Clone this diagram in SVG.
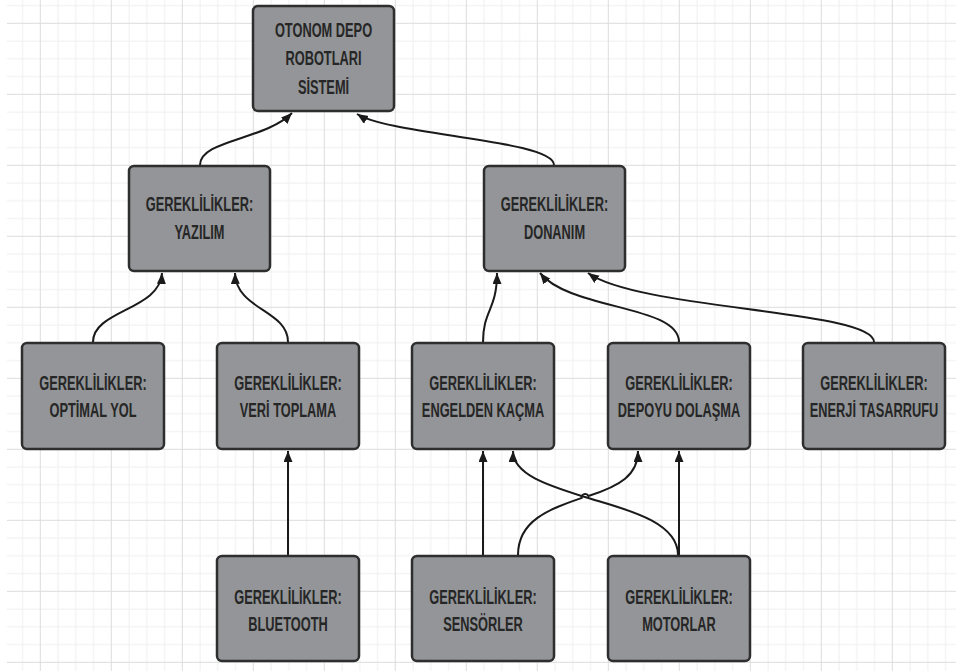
<svg xmlns="http://www.w3.org/2000/svg" width="956" height="671" viewBox="0 0 956 671">
  <defs>
    <!-- 71px major cells split into 4 minor cells -->
    <pattern id="grid" patternUnits="userSpaceOnUse" x="-31.2" y="-48.2" width="71" height="71">
      <path d="M18.25 0V71M36 0V71M53.75 0V71M0 18.25H71M0 36H71M0 53.75H71" stroke="#efefef" stroke-width="1" fill="none"/>
      <path d="M0.5 0V71M0 0.5H71" stroke="#dcdcdc" stroke-width="1" fill="none"/>
    </pattern>
    <marker id="arrow" markerUnits="userSpaceOnUse" markerWidth="12" markerHeight="10" refX="11" refY="4.5" orient="auto">
      <path d="M0 0L11 4.5L0 9z" fill="#1a1a1a"/>
    </marker>
    <style>
      .box { fill: #939598; stroke: #2e2e2e; stroke-width: 2.5; }
      .lbl { font-family: "Liberation Sans", Arial, sans-serif; font-weight: bold; font-size: 21px; fill: #262626; text-anchor: middle; }
      .link { fill: none; stroke: #1a1a1a; stroke-width: 2; }
    </style>
  </defs>

  <rect width="956" height="671" fill="#ffffff"/>
  <rect x="7" y="0" width="949" height="671" fill="url(#grid)"/>

  <g id="connectors">
    <path class="link" marker-end="url(#arrow)" d="M200 165C200 140 265 140 292 113"/>
    <path class="link" marker-end="url(#arrow)" d="M554 165C554 140 390 135 357 114"/>
    <path class="link" marker-end="url(#arrow)" d="M93 342C93 310 160 310 162 273"/>
    <path class="link" marker-end="url(#arrow)" d="M288 342C288 310 236 310 235 273"/>
    <path class="link" marker-end="url(#arrow)" d="M483 342C483 310 497 310 497 273"/>
    <path class="link" marker-end="url(#arrow)" d="M679 342C679 305 570 310 540 273"/>
    <path class="link" marker-end="url(#arrow)" d="M874 342C874 310 640 310 588 273"/>
    <path class="link" marker-end="url(#arrow)" d="M288 556V451"/>
    <path class="link" marker-end="url(#arrow)" d="M483 556V451"/>
    <path class="link" marker-end="url(#arrow)" d="M679 556V451"/>
    <path class="link" marker-end="url(#arrow)" d="M678 555C678 520 620 508 585 497C550 486 513 475 513 451"/>
    <!-- hop over the crossing line -->
    <path class="link" marker-end="url(#arrow)" d="M518 555C518 520 550 509 581.6 498A3.6 3.6 0 0 1 588.4 496C620 486 638 475 638 451"/>
  </g>

  <g id="node-sistem">
    <rect class="box" x="253" y="6" width="141" height="105" rx="5"/>
    <text class="lbl" transform="translate(323.5 0) scale(0.61 1)"><tspan x="0" y="36.7">OTONOM DEPO</tspan><tspan x="0" y="65">ROBOTLARI</tspan><tspan x="0" y="94.3">SİSTEMİ</tspan></text>
  </g>

  <g id="node-yazilim">
    <rect class="box" x="129" y="166" width="141" height="105" rx="5"/>
    <text class="lbl" transform="translate(199.5 0) scale(0.61 1)"><tspan x="0" y="211">GEREKLİLİKLER:</tspan><tspan x="0" y="239">YAZILIM</tspan></text>
  </g>

  <g id="node-donanim">
    <rect class="box" x="484" y="166" width="141" height="105" rx="5"/>
    <text class="lbl" transform="translate(554.5 0) scale(0.61 1)"><tspan x="0" y="211">GEREKLİLİKLER:</tspan><tspan x="0" y="239">DONANIM</tspan></text>
  </g>

  <g id="node-optimal-yol">
    <rect class="box" x="22" y="343" width="142" height="106" rx="5"/>
    <text class="lbl" transform="translate(93 0) scale(0.61 1)"><tspan x="0" y="390">GEREKLİLİKLER:</tspan><tspan x="0" y="417">OPTİMAL YOL</tspan></text>
  </g>

  <g id="node-veri-toplama">
    <rect class="box" x="217" y="343" width="142" height="106" rx="5"/>
    <text class="lbl" transform="translate(288 0) scale(0.61 1)"><tspan x="0" y="390">GEREKLİLİKLER:</tspan><tspan x="0" y="417">VERİ TOPLAMA</tspan></text>
  </g>

  <g id="node-engelden-kacma">
    <rect class="box" x="412" y="343" width="142" height="106" rx="5"/>
    <text class="lbl" transform="translate(483 0) scale(0.61 1)"><tspan x="0" y="390">GEREKLİLİKLER:</tspan><tspan x="0" y="417">ENGELDEN KAÇMA</tspan></text>
  </g>

  <g id="node-depoyu-dolasma">
    <rect class="box" x="608" y="343" width="142" height="106" rx="5"/>
    <text class="lbl" transform="translate(679 0) scale(0.61 1)"><tspan x="0" y="390">GEREKLİLİKLER:</tspan><tspan x="0" y="417">DEPOYU DOLAŞMA</tspan></text>
  </g>

  <g id="node-enerji-tasarrufu">
    <rect class="box" x="803" y="343" width="142" height="106" rx="5"/>
    <text class="lbl" transform="translate(874 0) scale(0.61 1)"><tspan x="0" y="390">GEREKLİLİKLER:</tspan><tspan x="0" y="417">ENERJİ TASARRUFU</tspan></text>
  </g>

  <g id="node-bluetooth">
    <rect class="box" x="217" y="556" width="142" height="105" rx="5"/>
    <text class="lbl" transform="translate(288 0) scale(0.61 1)"><tspan x="0" y="604">GEREKLİLİKLER:</tspan><tspan x="0" y="631">BLUETOOTH</tspan></text>
  </g>

  <g id="node-sensorler">
    <rect class="box" x="412" y="556" width="142" height="105" rx="5"/>
    <text class="lbl" transform="translate(483 0) scale(0.61 1)"><tspan x="0" y="604">GEREKLİLİKLER:</tspan><tspan x="0" y="631">SENSÖRLER</tspan></text>
  </g>

  <g id="node-motorlar">
    <rect class="box" x="608" y="556" width="142" height="105" rx="5"/>
    <text class="lbl" transform="translate(679 0) scale(0.61 1)"><tspan x="0" y="604">GEREKLİLİKLER:</tspan><tspan x="0" y="631">MOTORLAR</tspan></text>
  </g>
</svg>
